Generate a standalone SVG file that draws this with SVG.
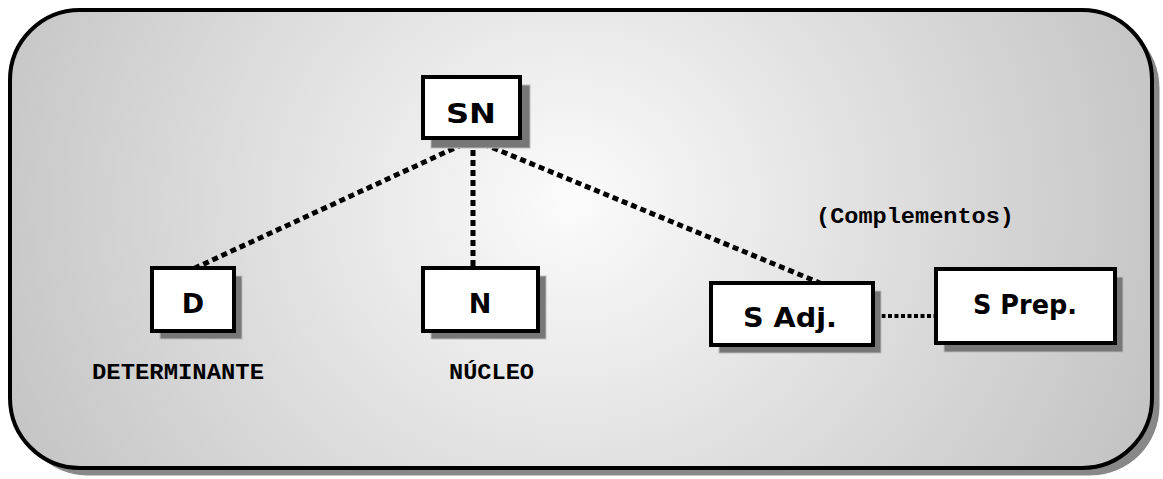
<svg xmlns="http://www.w3.org/2000/svg" width="1163" height="479" viewBox="0 0 1163 479">
<defs>
<radialGradient id="bg" cx="0.49" cy="0.42" r="0.55" gradientTransform="translate(0.49 0.42) scale(1 2.3) translate(-0.49 -0.42)">
<stop offset="0" stop-color="#fbfbfb"/>
<stop offset="0.55" stop-color="#dcdcdc"/>
<stop offset="1" stop-color="#c3c3c3"/>
</radialGradient>
<style>
.frame{fill:url(#bg);stroke:#000;stroke-width:4}
.frameShadow{fill:#888;stroke:#fff;stroke-width:1}
.box{fill:#fff;stroke:#000;stroke-width:4}
.shadow{fill:#777;stroke:#bbb;stroke-width:1}
.lbl{font-family:"DejaVu Sans","Comic Sans MS",sans-serif;font-size:27px;font-weight:bold;fill:#000;text-anchor:middle}
.cap{font-family:"Liberation Mono","Courier New",monospace;font-weight:bold;font-size:22px;fill:#000}
.dot{stroke:#000;stroke-width:5;stroke-dasharray:6 4;fill:none}
.dot2{stroke:#000;stroke-width:4;stroke-dasharray:4 2.5;fill:none}
</style>
</defs>
<rect class="frameShadow" x="18" y="18" width="1142" height="458" rx="70" ry="70"/>
<rect class="frame" x="10" y="10" width="1142" height="458" rx="70" ry="70"/>
<g id="connectors">
<line class="dot" x1="472" y1="140" x2="195" y2="268"/>
<line class="dot" x1="473" y1="140" x2="473" y2="268"/>
<line class="dot" x1="474" y1="140" x2="820" y2="283"/>
<line class="dot2" x1="875" y1="316" x2="936" y2="316"/>
<circle cx="473" cy="140" r="4" fill="#000"/>
</g>
<g id="node-SN">
<rect class="shadow" x="431" y="85" width="99" height="63"/>
<rect class="box" x="423" y="77" width="97" height="61"/>
<text class="lbl" x="471" y="123" textLength="50" lengthAdjust="spacingAndGlyphs">SN</text>
</g>
<g id="node-D">
<rect class="shadow" x="160" y="276" width="82" height="63"/>
<rect class="box" x="152" y="268" width="82" height="63"/>
<text class="lbl" x="193" y="313">D</text>
</g>
<g id="node-N">
<rect class="shadow" x="431" y="276" width="115" height="63"/>
<rect class="box" x="423" y="268" width="115" height="63"/>
<text class="lbl" x="480" y="313">N</text>
</g>
<g id="node-SAdj">
<rect class="shadow" x="719" y="291" width="162" height="62"/>
<rect class="box" x="711" y="283" width="162" height="62"/>
<text class="lbl" x="790" y="327" textLength="94" lengthAdjust="spacingAndGlyphs">S Adj.</text>
</g>
<g id="node-SPrep">
<rect class="shadow" x="944" y="277" width="179" height="75"/>
<rect class="box" x="936" y="269" width="179" height="74"/>
<text class="lbl" x="1025" y="314" textLength="104" lengthAdjust="spacingAndGlyphs">S Prep.</text>
</g>
<text class="cap" x="92" y="379" textLength="172" lengthAdjust="spacingAndGlyphs">DETERMINANTE</text>
<text class="cap" x="449" y="379" textLength="85" lengthAdjust="spacingAndGlyphs">NÚCLEO</text>
<text class="cap" x="816" y="223" textLength="198" lengthAdjust="spacingAndGlyphs">(Complementos)</text>
</svg>
